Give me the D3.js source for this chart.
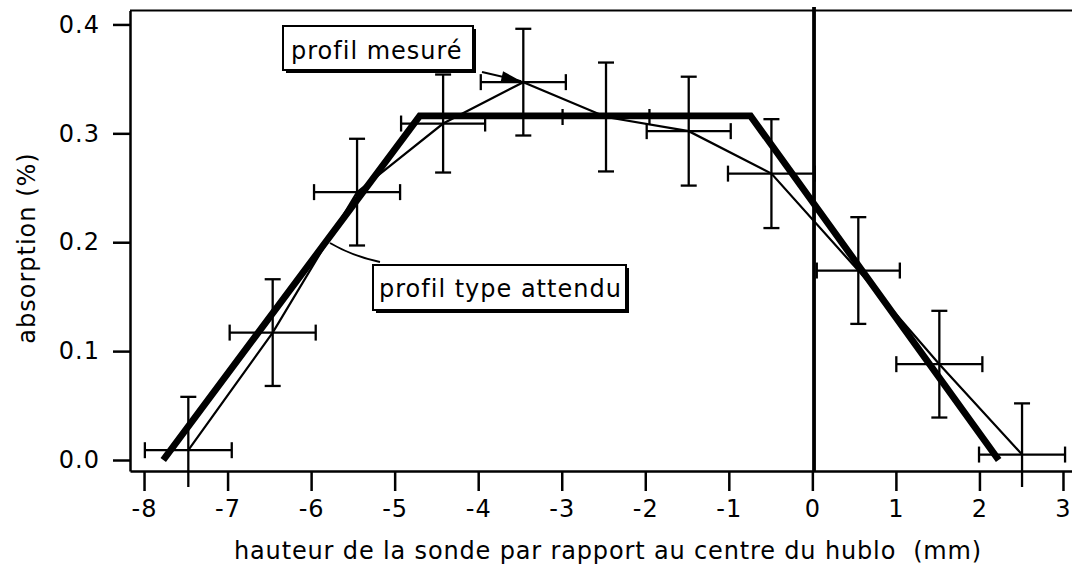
<!DOCTYPE html>
<html lang="fr">
<head>
<meta charset="UTF-8">
<title>absorption</title>
<script src="https://cdn.jsdelivr.net/npm/d3@7"></script>
<style>
  body { margin: 0; background: #fff; overflow: hidden; }
  text { font-family: "DejaVu Sans", Verdana, sans-serif; font-size: 24px; letter-spacing: 1px; fill: #000; }
</style>
</head>
<body>
<svg id="chart" width="1072" height="566"></svg>
<script>
// profil mesuré (points + barres d'erreur)
const hauteur    = [-7.47, -6.46, -5.45, -4.42, -3.46, -2.47, -1.48, -0.49, 0.55, 1.52, 2.51];
const absorption = [0.009, 0.117, 0.246, 0.309, 0.347, 0.315, 0.302, 0.263, 0.174, 0.088, 0.005];
const errHauteur = [0.52, 0.515, 0.515, 0.503, 0.509, 0.52, 0.503, 0.52, 0.497, 0.515, 0.515];
const errAbs     = [0.049, 0.049, 0.049, 0.045, 0.049, 0.05, 0.05, 0.05, 0.049, 0.049, 0.047];

// profil type attendu (trapèze)
const attenduX = [-7.77, -4.70, -0.74, 2.23];
const attenduY = [0, 0.316, 0.316, 0];

// centre du hublot
const centreX = [0.02];

const xTicks = [-8, -7, -6, -5, -4, -3, -2, -1, 0, 1, 2, 3];
const xTickLabels = ["-8", "-7", "-6", "-5", "-4", "-3", "-2", "-1", "0", "1", "2", "3"];
const yTicks = [0, 0.1, 0.2, 0.3, 0.4];
const yTickLabels = ["0.0", "0.1", "0.2", "0.3", "0.4"];

const svg = d3.select("#chart");
const pLeft = 130, pRight = 1072, pTop = 10.5, pBottom = 471;

const x = d3.scaleLinear().domain([-8.168, 3.108]).range([pLeft, pRight]);
const y = d3.scaleLinear().domain([-0.0101, 0.4128]).range([pBottom, pTop]);

svg.append("defs").append("clipPath").attr("id", "plot")
  .append("rect").attr("x", pLeft).attr("y", 0).attr("width", pRight - pLeft).attr("height", 487);

// axes
const yAxis = svg.append("g").attr("transform", `translate(${pLeft},0)`)
  .call(d3.axisLeft(y).tickValues(yTicks).tickFormat((d, i) => yTickLabels[i])
    .tickSize(17).tickSizeOuter(0).tickPadding(13));
const xAxis = svg.append("g").attr("transform", `translate(0,${pBottom})`)
  .call(d3.axisBottom(x).tickValues(xTicks).tickFormat((d, i) => xTickLabels[i])
    .tickSize(20).tickSizeOuter(0).tickPadding(9));
[yAxis, xAxis].forEach(g => {
  g.selectAll("path, line").attr("stroke", "#000").attr("stroke-width", 2.5);
  g.attr("font-family", null).attr("font-size", null);
});

// top frame
svg.append("line").attr("x1", pLeft).attr("x2", pRight).attr("y1", pTop).attr("y2", pTop)
  .attr("stroke", "#000").attr("stroke-width", 2.2);

const plot = svg.append("g").attr("clip-path", "url(#plot)");

// centre line
plot.selectAll(".centre").data(centreX).join("line")
  .attr("x1", d => x(d)).attr("x2", d => x(d))
  .attr("y1", 7).attr("y2", pBottom)
  .attr("stroke", "#000").attr("stroke-width", 3.8);

const pts = hauteur.map((h, i) => ({ x: h, y: absorption[i], ex: errHauteur[i], ey: errAbs[i] }));
const cap = 8;

const eb = plot.append("g").attr("stroke", "#000").attr("stroke-width", 2.3).attr("fill", "none");
pts.forEach(p => {
  const g = eb.append("g");
  // horizontal bar
  g.append("line").attr("x1", x(p.x - p.ex)).attr("x2", x(p.x + p.ex)).attr("y1", y(p.y)).attr("y2", y(p.y));
  g.append("line").attr("x1", x(p.x - p.ex)).attr("x2", x(p.x - p.ex)).attr("y1", y(p.y) - cap).attr("y2", y(p.y) + cap);
  g.append("line").attr("x1", x(p.x + p.ex)).attr("x2", x(p.x + p.ex)).attr("y1", y(p.y) - cap).attr("y2", y(p.y) + cap);
  // vertical bar
  g.append("line").attr("x1", x(p.x)).attr("x2", x(p.x)).attr("y1", y(p.y - p.ey)).attr("y2", y(p.y + p.ey));
  g.append("line").attr("x1", x(p.x) - cap).attr("x2", x(p.x) + cap).attr("y1", y(p.y + p.ey)).attr("y2", y(p.y + p.ey));
  g.append("line").attr("x1", x(p.x) - cap).attr("x2", x(p.x) + cap).attr("y1", y(p.y - p.ey)).attr("y2", y(p.y - p.ey));
});

// measured line
plot.append("path").datum(pts)
  .attr("d", d3.line().x(d => x(d.x)).y(d => y(d.y)))
  .attr("fill", "none").attr("stroke", "#000").attr("stroke-width", 2.2);

// expected profile
plot.append("path").datum(attenduX.map((v, i) => [v, attenduY[i]]))
  .attr("d", d3.line().x(d => x(d[0])).y(d => y(d[1])))
  .attr("fill", "none").attr("stroke", "#000").attr("stroke-width", 6.8)
  .attr("stroke-linejoin", "miter");

// annotation boxes
function box(tx, ty, bx, by, bw, bh, label) {
  svg.append("rect").attr("x", bx + 3).attr("y", by + 3).attr("width", bw).attr("height", bh).attr("fill", "#000");
  svg.append("rect").attr("x", bx).attr("y", by).attr("width", bw).attr("height", bh)
    .attr("fill", "#fff").attr("stroke", "#000").attr("stroke-width", 2);
  svg.append("text").attr("x", tx).attr("y", ty).text(label);
}

// "profil mesuré" with arrow to the peak point
const peak = pts[4];
const ax0 = 482, ay0 = 72, ax1 = x(peak.x) - 2, ay1 = y(peak.y) - 1;
svg.append("line").attr("x1", ax0).attr("y1", ay0).attr("x2", ax1).attr("y2", ay1)
  .attr("stroke", "#000").attr("stroke-width", 2);
{
  const ang = Math.atan2(ay1 - ay0, ax1 - ax0), L = 20, hw = 5.5;
  const bxp = ax1 - L * Math.cos(ang), byp = ay1 - L * Math.sin(ang);
  svg.append("path")
    .attr("d", `M${ax1},${ay1}L${bxp - hw * Math.sin(ang)},${byp + hw * Math.cos(ang)}L${bxp + hw * Math.sin(ang)},${byp - hw * Math.cos(ang)}Z`)
    .attr("fill", "#000");
}
box(291, 59, 283, 26, 190, 44, "profil mesuré");

// "profil type attendu" with leader
svg.append("path").attr("d", "M330,243 Q352,256 380,262")
  .attr("fill", "none").attr("stroke", "#000").attr("stroke-width", 2);
box(379, 297, 373, 265, 253, 45, "profil type attendu");

// axis titles
svg.append("text").attr("x", 608).attr("y", 559).attr("text-anchor", "middle")
  .style("letter-spacing", "0.85px")
  .text("hauteur de la sonde par rapport au centre du hublo\u00a0\u00a0(mm)");
svg.append("text").attr("transform", "translate(35,248) rotate(-90)").attr("text-anchor", "middle")
  .text("absorption (%)");
</script>
</body>
</html>
